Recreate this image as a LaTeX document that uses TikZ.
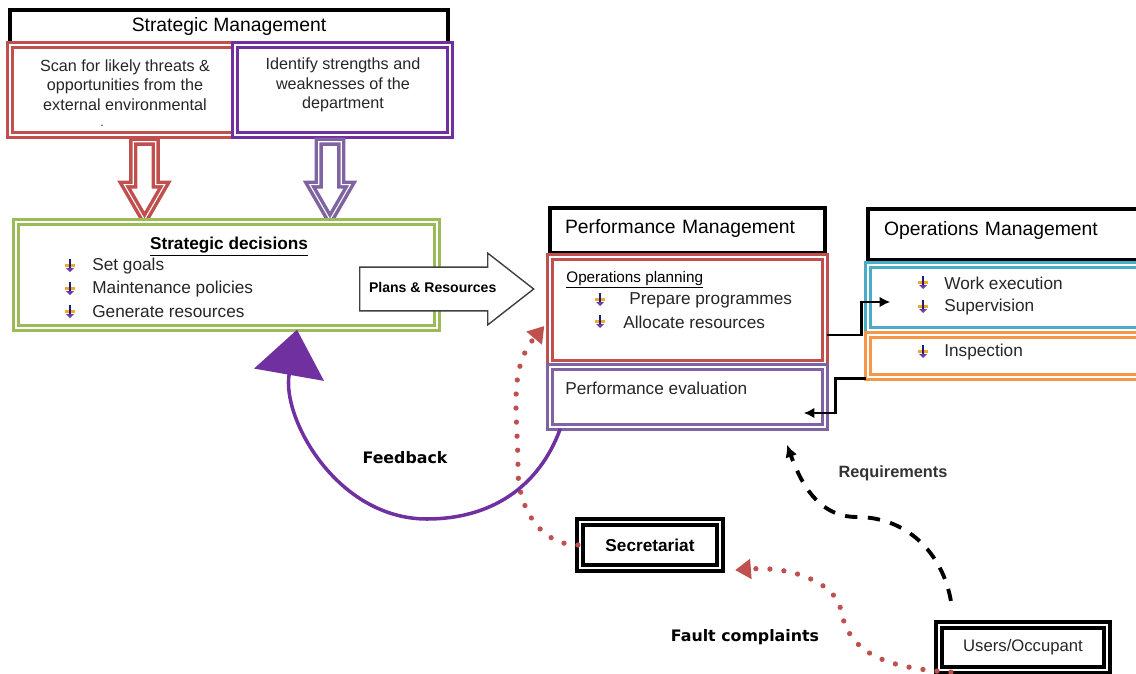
\documentclass[tikz,border=0pt]{standalone}
\usepackage{fontspec}
\setmainfont{Liberation Sans}
\newfontfamily\widebold{DejaVu Sans}
\usetikzlibrary{arrows.meta,shapes.arrows,positioning}

\definecolor{smred}{RGB}{192,80,77}
\definecolor{smpurple}{RGB}{128,100,162}
\definecolor{fbpurple}{RGB}{112,48,160}
\definecolor{sdgreen}{RGB}{155,187,89}
\definecolor{omblue}{RGB}{75,172,198}
\definecolor{omorange}{RGB}{247,150,70}
\definecolor{bulorange}{RGB}{240,170,40}
\definecolor{bulnavy}{RGB}{30,30,120}
\definecolor{bulviolet}{RGB}{110,60,170}

\tikzset{
  bul/.pic={
    \fill[bulorange] (-5,-2) rectangle (5,1);
    \draw[bulnavy, line width=1.1pt] (0,-7) -- (0,3);
    \fill[bulviolet] (-4,2) -- (4,2) -- (0,6) -- cycle;
  }
}

\begin{document}
\begin{tikzpicture}[x=0.02cm, y=-0.02cm,
    hdbox/.style={draw=black, line width=2pt, fill=white, inner sep=0pt, font=\fontsize{11}{13}\selectfont},
    dbl/.style={draw=#1, double=white, line width=2pt, double distance=0.9pt, fill=white, inner sep=0pt},
    dblk/.style={draw=black, double=white, line width=2.4pt, double distance=1.2pt, fill=white, inner sep=0pt},
    bodytext/.style={font=\fontsize{9.2}{11}\selectfont, align=center, inner sep=0pt, text=black!85},
    item/.style={font=\fontsize{9.8}{12}\selectfont, inner sep=0pt, anchor=west, text=black!85},
    boldlabel/.style={font=\widebold\bfseries\fontsize{9}{11}\selectfont, inner sep=0pt},
    downarrow/.style={single arrow, draw=#1, double=white, line width=2pt, double distance=0.6pt,
      fill=white, rotate=-90, minimum height=1.56cm, inner xsep=0pt, inner ysep=0.19cm,
      single arrow head extend=0.18cm, single arrow tip angle=60},
    plans/.style={single arrow, draw=black!75, line width=0.8pt, fill=white,
      font=\bfseries\fontsize{8}{10}\selectfont, minimum height=3.48cm, text height=6pt, text depth=1.6pt,
      inner xsep=2pt, inner ysep=0.29cm, single arrow head extend=0.28cm, single arrow tip angle=76},
    elbow/.style={line width=1.6pt, -{Latex[length=6pt,width=6pt]}},
    dots/.style={smred, line width=3pt, line cap=round, dash pattern=on 0pt off 8pt,
      -{Triangle[length=9pt,width=11pt]}},
  ]
  \useasboundingbox (0,0) rectangle (1136,673);

  % Strategic management
  \node[hdbox, minimum width=8.76cm, minimum height=0.66cm] (smhead) at (229,26.5) {Strategic Management};
  \node[dbl=smred, minimum width=4.5cm, minimum height=1.8cm] (scan) at (122.5,90) {};
  \node[bodytext] (scantext) at (125,85) {Scan for likely threats \&\\opportunities from the\\external environmental};
  \node[bodytext, font=\fontsize{7}{8}\selectfont] (scandot) at (102,126) {.};
  \node[dbl=fbpurple, minimum width=4.3cm, minimum height=1.8cm] (ident) at (342.5,90) {};
  \node[bodytext] (identtext) at (343,85) {Identify strengths and\\weaknesses of the\\department};
  \node[downarrow=smred, anchor=tail] (scanarrow) at (144.5,140) {};
  \node[downarrow=smpurple, anchor=tail] (identarrow) at (330,140) {};

  % Strategic decisions
  \node[dbl=sdgreen, minimum width=8.42cm, minimum height=2.12cm] (decide) at (226.5,275) {};
  \node[font=\bfseries\fontsize{9.8}{12}\selectfont, inner sep=0pt] (sdtitle) at (229,247) {\underline{Strategic decisions}};
  \foreach \y/\t [count=\i] in {266/Set goals, 289/Maintenance policies, 312/Generate resources} {
    \pic at (70,\y) {bul};
    \node[item] (sd\i) at (92,\y) {\t};
  }
  \node[plans, anchor=tail] (plansarrow) at (359,289) {Plans \& Resources};

  % Performance management
  \node[hdbox, text width=4.9cm, inner xsep=0.3cm, minimum height=0.9cm, align=left,
        text height=8pt, text depth=4.2pt] (pmhead) at (687.5,230.5) {Performance Management};
  \node[dbl=smred, minimum width=5.5cm, minimum height=2.12cm] (opplan) at (687.5,310) {};
  \node[font=\fontsize{8.7}{10}\selectfont, inner sep=0pt, anchor=west] (optitle) at (566,280) {\underline{Operations planning}};
  \foreach \y/\x/\t [count=\i] in {300/629/Prepare programmes, 322/623/Allocate resources} {
    \pic at (600,\y) {bul};
    \node[item] (op\i) at (\x,\y) {\t};
  }
  \node[dbl=smpurple, minimum width=5.5cm, minimum height=1.2cm] (perfeval) at (687.5,397) {};
  \node[item] (petext) at (565,388) {Performance evaluation};

  % Operations management
  \node[hdbox, text width=4.84cm, inner xsep=0.32cm, minimum height=1.02cm, align=left,
        text height=8pt, text depth=7pt] (omhead) at (1005,234.5) {Operations Management};
  \node[dbl=omblue, minimum width=5.48cm, minimum height=1.3cm] (exec) at (1005,297.5) {};
  \node[dbl=omorange, minimum width=5.48cm, minimum height=0.84cm] (insp) at (1005,356) {};
  \foreach \y/\t [count=\i] in {283/Work execution, 307/Supervision, 352/Inspection} {
    \pic at (923,\y) {bul};
    \node[item] (om\i) at (944,\y) {\t};
  }
  \draw[elbow] ([yshift=-0.5cm]opplan.east) -- ++(35,0) |- ([xshift=0.48cm,yshift=-0.09cm]exec.west);
  \draw[elbow] (insp.south west) -- ++(-31,0) |- ([xshift=-0.46cm,yshift=-0.32cm]perfeval.east);

  % Secretariat and users
  \node[dblk, minimum width=2.8cm, minimum height=0.92cm, font=\bfseries\fontsize{9.8}{12}\selectfont] (secr) at (650,545) {Secretariat};
  \node[dblk, minimum width=3.36cm, minimum height=0.9cm, font=\fontsize{9.5}{12}\selectfont, text=black!85] (users) at (1023,647.5) {Users/Occupant};

  % Flows
  \draw[dots] (secr.west) to[out=180,in=-90] (518,470) to[out=90,in=-130] ([xshift=-0.08cm,yshift=-0.32cm]opplan.west);
  \draw[fbpurple, line width=2pt, -{Triangle[length=26pt,width=40pt]}] ([xshift=0.24cm]perfeval.south west)
    to[out=-110,in=0] (427,519) to[out=180,in=-100] ([xshift=1.41cm]decide.south);
  \draw[dots] ([xshift=0.28cm]users.south west) .. controls (880,668) and (848,650) .. (841,610)
    .. controls (835,582) and (790,566) .. ([xshift=0.26cm]secr.south east);
  \draw[line width=2.2pt, dash pattern=on 7pt off 6pt, -{Latex[length=7pt,width=7pt]}] ([xshift=0.28cm,yshift=0.44cm]users.north west)
    to[out=100,in=0] (857,517) to[out=180,in=-70] ([xshift=1.99cm,yshift=-0.32cm]perfeval.south);

  % Labels
  \node[boldlabel] (fblabel) at (405,458) {Feedback};
  \node[font=\bfseries\fontsize{9.3}{11}\selectfont, text=black!80, inner sep=0pt] (reqlabel) at (893,473) {Requirements};
  \node[boldlabel] (fclabel) at (745,637) {Fault complaints};
\end{tikzpicture}
\end{document}
